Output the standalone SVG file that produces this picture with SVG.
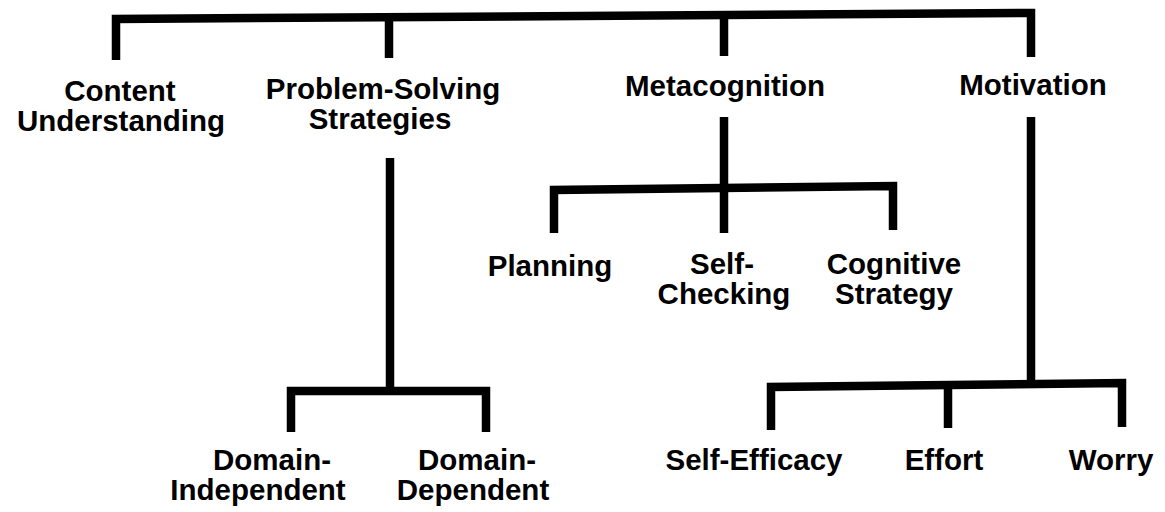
<svg xmlns="http://www.w3.org/2000/svg" width="1165" height="512" viewBox="0 0 1165 512">
  <style>
    .lbl { font-family: "Liberation Sans", Arial, Helvetica, sans-serif; font-weight: bold; font-size: 29.5px; fill: #000; text-anchor: middle; }
    .conn { fill: none; stroke: #000; stroke-width: 8.5; stroke-linejoin: miter; stroke-linecap: butt; }
  </style>
  <rect width="1165" height="512" fill="#fff"/>
  <g id="connectors">
    <!-- root bar -->
    <path class="conn" d="M116,60 V19 L1031,13 V57"/>
    <path class="conn" d="M389,16.5 V58"/>
    <path class="conn" d="M724,14.5 V56"/>
    <!-- metacognition -->
    <path class="conn" d="M724,117 V188"/>
    <path class="conn" d="M554,233 V190 L893,186 V230"/>
    <path class="conn" d="M724,188 V233"/>
    <!-- problem-solving -->
    <path class="conn" d="M390,158 V391"/>
    <path class="conn" d="M291,432 V391 H486 V432"/>
    <!-- motivation -->
    <path class="conn" d="M1031,117 V384"/>
    <path class="conn" d="M771,430 V387 L1122,383 V427"/>
    <path class="conn" d="M948,385 V428"/>
  </g>
  <g id="node-content">
    <text class="lbl" x="120" y="101">Content</text>
    <text class="lbl" x="121" y="131">Understanding</text>
  </g>
  <g id="node-problem-solving">
    <text class="lbl" x="383" y="99">Problem-Solving</text>
    <text class="lbl" x="380" y="129">Strategies</text>
  </g>
  <g id="node-metacognition">
    <text class="lbl" x="725" y="96">Metacognition</text>
  </g>
  <g id="node-motivation">
    <text class="lbl" x="1033" y="95">Motivation</text>
  </g>
  <g id="node-planning">
    <text class="lbl" x="550" y="276">Planning</text>
  </g>
  <g id="node-self-checking">
    <text class="lbl" x="722" y="274">Self-</text>
    <text class="lbl" x="724" y="304">Checking</text>
  </g>
  <g id="node-cognitive-strategy">
    <text class="lbl" x="894" y="274">Cognitive</text>
    <text class="lbl" x="894" y="304">Strategy</text>
  </g>
  <g id="node-domain-independent">
    <text class="lbl" x="272" y="470">Domain-</text>
    <text class="lbl" x="258" y="500">Independent</text>
  </g>
  <g id="node-domain-dependent">
    <text class="lbl" x="477" y="470">Domain-</text>
    <text class="lbl" x="473" y="500">Dependent</text>
  </g>
  <g id="node-self-efficacy">
    <text class="lbl" x="754" y="470">Self-Efficacy</text>
  </g>
  <g id="node-effort">
    <text class="lbl" x="944" y="470">Effort</text>
  </g>
  <g id="node-worry">
    <text class="lbl" x="1111" y="470">Worry</text>
  </g>
</svg>
